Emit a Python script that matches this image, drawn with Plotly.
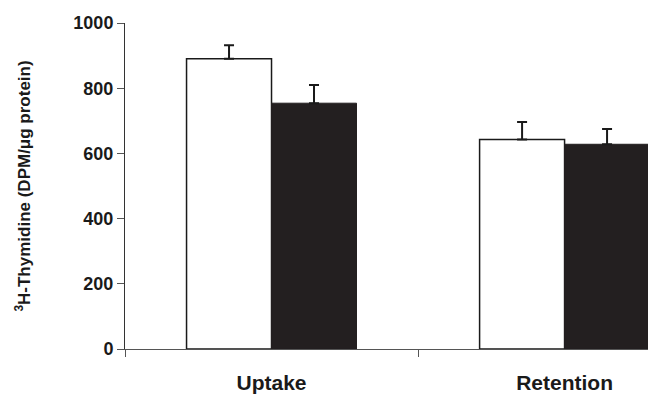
import plotly.graph_objects as go

categories = ["Uptake", "Retention"]
control_values = [890, 643]
control_errors = [42, 53]
treated_values = [754, 628]
treated_errors = [56, 47]
y_ticks = [0, 200, 400, 600, 800, 1000]

font_family = "Liberation Sans, Arial, sans-serif"

fig = go.Figure()
fig.add_trace(go.Bar(
    x=categories, y=control_values,
    marker=dict(color="white", line=dict(color="#1a1a1a", width=1.5)),
    error_y=dict(type="data", array=control_errors, arrayminus=[0, 0], symmetric=False,
                 color="#1a1a1a", thickness=2, width=5),
    showlegend=False,
))
fig.add_trace(go.Bar(
    x=categories, y=treated_values,
    marker=dict(color="#231f20", line=dict(color="#231f20", width=1)),
    error_y=dict(type="data", array=treated_errors, arrayminus=[0, 0], symmetric=False,
                 color="#1a1a1a", thickness=2, width=5),
    showlegend=False,
))

# The page body has a default 8px margin, so the figure is sized/offset to compensate.
fig.update_layout(
    width=648, height=387,
    margin=dict(l=117, r=0, t=15, b=46),
    paper_bgcolor="white", plot_bgcolor="white",
    barmode="group", bargap=0.42, bargroupgap=0,
    font=dict(family=font_family, color="#1a1a1a"),
    xaxis=dict(
        type="category",
        range=[-0.5, 1.312],
        automargin=False,
        showline=True, linecolor="#555555", linewidth=1,
        ticks="outside", tickson="boundaries", ticklen=7, tickcolor="#555555",
        tickfont=dict(size=21, family=font_family, weight="bold"),
        ticklabelstandoff=15,
        showgrid=False, zeroline=False,
    ),
    yaxis=dict(
        range=[0, 1000],
        tickvals=y_ticks,
        automargin=False,
        showline=True, linecolor="#333333", linewidth=1,
        ticks="outside", ticklen=7, tickcolor="#555555",
        tickfont=dict(size=18, family=font_family, weight="bold"),
        showgrid=False, zeroline=False,
        title=dict(text="<sup>3</sup>H-Thymidine (DPM/μg protein)",
                   font=dict(size=17, family=font_family, weight="bold"), standoff=38),
    ),
)

fig.write_html("out.html")
